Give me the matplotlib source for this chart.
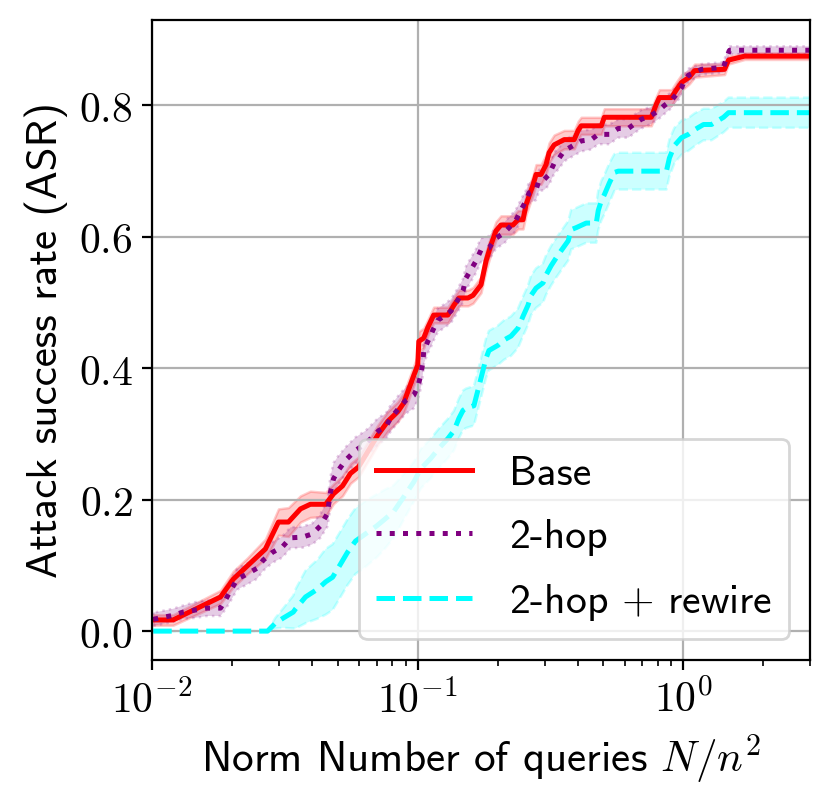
import matplotlib
matplotlib.use("Agg")
import matplotlib.pyplot as plt
from matplotlib.ticker import FuncFormatter, FixedLocator
import numpy as np

matplotlib.rcParams['mathtext.fontset'] = 'cm'
matplotlib.rcParams['mathtext.default'] = 'rm'
matplotlib.rcParams['axes.unicode_minus'] = False

# --- data (x = N/n^2, y = ASR, err = band half-width) ---
base_x = [0.0101, 0.0120, 0.0181, 0.0202, 0.0228, 0.0267, 0.0299, 0.0326, 0.0362, 0.0394,
          0.0450, 0.0482, 0.0521, 0.0558, 0.0599, 0.0706, 0.0770, 0.0841, 0.0885, 0.0966,
          0.1000, 0.1009, 0.1053, 0.1091, 0.1148, 0.1298, 0.1368, 0.1429, 0.1545, 0.1614,
          0.1730, 0.1806, 0.1886, 0.1969, 0.2056, 0.2282, 0.2384, 0.2489, 0.2556, 0.2716,
          0.2787, 0.2911, 0.3040, 0.3120, 0.3260, 0.3557, 0.3880, 0.4015, 0.4121, 0.4907,
          0.5035, 0.7568, 0.7907, 0.8117, 0.9012, 0.9412, 0.9831, 1.053, 1.101, 1.428,
          1.478, 1.699, 3.0]
base_y = [0.017, 0.017, 0.052, 0.079, 0.099, 0.125, 0.166, 0.166, 0.186, 0.193,
          0.193, 0.209, 0.221, 0.240, 0.250, 0.298, 0.319, 0.334, 0.347, 0.389,
          0.405, 0.441, 0.446, 0.462, 0.481, 0.481, 0.496, 0.507, 0.507, 0.511,
          0.527, 0.563, 0.588, 0.609, 0.618, 0.618, 0.626, 0.626, 0.649, 0.679,
          0.695, 0.695, 0.710, 0.728, 0.740, 0.748, 0.748, 0.762, 0.769, 0.769,
          0.782, 0.782, 0.802, 0.812, 0.812, 0.824, 0.835, 0.843, 0.853, 0.855,
          0.869, 0.875, 0.875]
base_err = [0.008, 0.008, 0.010, 0.012, 0.012, 0.015, 0.020, 0.022, 0.020, 0.020,
            0.018, 0.015, 0.015, 0.015, 0.015, 0.015, 0.015, 0.015, 0.015, 0.015,
            0.015, 0.015, 0.015, 0.012, 0.012, 0.012, 0.012, 0.012, 0.012, 0.012,
            0.012, 0.014, 0.014, 0.014, 0.014, 0.014, 0.014, 0.014, 0.015, 0.015,
            0.015, 0.015, 0.015, 0.015, 0.015, 0.014, 0.014, 0.014, 0.013, 0.013,
            0.013, 0.013, 0.012, 0.012, 0.012, 0.012, 0.012, 0.010, 0.010, 0.008,
            0.006, 0.005, 0.005]

hop_x = [0.0101, 0.0120, 0.0131, 0.0145, 0.0161, 0.0181, 0.0188, 0.0197, 0.0209, 0.0228,
         0.0249, 0.0262, 0.0284, 0.0309, 0.0332, 0.0368, 0.0401, 0.0430, 0.0457, 0.0469,
         0.0482, 0.0503, 0.0535, 0.0583, 0.0636, 0.0712, 0.0757, 0.0791, 0.0848, 0.0901,
         0.0966, 0.1000, 0.1026, 0.1044, 0.1053, 0.1091, 0.1120, 0.1140, 0.1189, 0.1253,
         0.1333, 0.1416, 0.1480, 0.1518, 0.1585, 0.1655, 0.1730, 0.1853, 0.1969, 0.2111,
         0.2244, 0.2344, 0.2447, 0.2556, 0.2624, 0.2787, 0.2862, 0.2986, 0.3120, 0.3260,
         0.3405, 0.3557, 0.3845, 0.4121, 0.4497, 0.4778, 0.5260, 0.5684, 0.6202, 0.6648,
         0.6945, 0.7568, 0.8050, 0.8474, 0.9012, 0.9412, 0.9831, 1.009, 1.044, 1.170,
         1.415, 1.453, 1.491, 3.0]
hop_y = [0.018, 0.024, 0.029, 0.032, 0.035, 0.035, 0.046, 0.061, 0.079, 0.087,
         0.096, 0.108, 0.120, 0.128, 0.142, 0.143, 0.148, 0.160, 0.179, 0.211,
         0.232, 0.245, 0.260, 0.275, 0.285, 0.305, 0.311, 0.324, 0.339, 0.351,
         0.359, 0.372, 0.389, 0.408, 0.426, 0.441, 0.450, 0.458, 0.473, 0.479,
         0.487, 0.504, 0.518, 0.537, 0.550, 0.563, 0.580, 0.583, 0.598, 0.606,
         0.617, 0.626, 0.641, 0.655, 0.667, 0.672, 0.686, 0.687, 0.695, 0.712,
         0.720, 0.731, 0.739, 0.746, 0.748, 0.756, 0.756, 0.765, 0.765, 0.774,
         0.779, 0.785, 0.792, 0.800, 0.808, 0.817, 0.827, 0.838, 0.846, 0.855,
         0.858, 0.873, 0.884, 0.884]
hop_err = [0.010, 0.010, 0.010, 0.012, 0.012, 0.012, 0.014, 0.016, 0.016, 0.016,
           0.016, 0.016, 0.016, 0.016, 0.016, 0.016, 0.016, 0.018, 0.020, 0.024,
           0.024, 0.022, 0.020, 0.020, 0.020, 0.020, 0.020, 0.020, 0.020, 0.020,
           0.020, 0.020, 0.020, 0.020, 0.020, 0.018, 0.018, 0.018, 0.018, 0.018,
           0.018, 0.018, 0.018, 0.018, 0.018, 0.018, 0.018, 0.018, 0.016, 0.016,
           0.016, 0.016, 0.016, 0.016, 0.016, 0.016, 0.016, 0.016, 0.016, 0.016,
           0.016, 0.016, 0.016, 0.016, 0.015, 0.015, 0.015, 0.014, 0.014, 0.014,
           0.014, 0.013, 0.013, 0.013, 0.012, 0.012, 0.012, 0.010, 0.010, 0.008,
           0.008, 0.007, 0.006, 0.006]

rew_x = [0.0101, 0.0272, 0.0291, 0.0312, 0.0340, 0.0347, 0.0378, 0.0420, 0.0450, 0.0478,
         0.0512, 0.0544, 0.0583, 0.0636, 0.0700, 0.0750, 0.0812, 0.0878, 0.0966, 0.1026,
         0.1120, 0.1200, 0.1298, 0.1368, 0.1429, 0.1480, 0.1518, 0.1627, 0.1730, 0.1806,
         0.1853, 0.2004, 0.2111, 0.2244, 0.2384, 0.2489, 0.2600, 0.2669, 0.2787, 0.2962,
         0.3040, 0.3175, 0.3318, 0.3465, 0.3683, 0.3779, 0.3946, 0.4305, 0.4698, 0.4778,
         0.4907, 0.5035, 0.5260, 0.5494, 0.5684, 0.8628, 0.8853, 0.9248, 0.9831, 1.044,
         1.101, 1.190, 1.275, 1.415, 1.478, 3.0]
rew_y = [0.000, 0.000, 0.012, 0.020, 0.029, 0.034, 0.052, 0.064, 0.075, 0.082,
         0.102, 0.120, 0.137, 0.148, 0.160, 0.170, 0.182, 0.202, 0.227, 0.247,
         0.263, 0.278, 0.293, 0.305, 0.324, 0.336, 0.339, 0.343, 0.385, 0.415,
         0.427, 0.435, 0.443, 0.449, 0.461, 0.479, 0.496, 0.511, 0.522, 0.530,
         0.542, 0.556, 0.568, 0.579, 0.594, 0.611, 0.614, 0.621, 0.621, 0.640,
         0.655, 0.664, 0.682, 0.698, 0.700, 0.700, 0.720, 0.739, 0.751, 0.756,
         0.763, 0.771, 0.771, 0.782, 0.789, 0.789]
rew_err = [0.000, 0.000, 0.008, 0.015, 0.025, 0.030, 0.040, 0.045, 0.050, 0.050,
           0.050, 0.050, 0.050, 0.050, 0.048, 0.045, 0.040, 0.035, 0.030, 0.030,
           0.030, 0.030, 0.030, 0.030, 0.030, 0.030, 0.030, 0.030, 0.030, 0.030,
           0.030, 0.030, 0.030, 0.030, 0.030, 0.030, 0.030, 0.030, 0.030, 0.030,
           0.030, 0.030, 0.030, 0.030, 0.030, 0.030, 0.030, 0.030, 0.030, 0.030,
           0.030, 0.030, 0.030, 0.028, 0.028, 0.028, 0.028, 0.027, 0.026, 0.025,
           0.025, 0.024, 0.024, 0.023, 0.023, 0.023]

series = [
    ("Base", base_x, base_y, base_err, "red", "-"),
    ("2-hop", hop_x, hop_y, hop_err, "purple", ":"),
    ("2-hop $+$ rewire", rew_x, rew_y, rew_err, "cyan", "--"),
]

fig = plt.figure(figsize=(8.31 / 2, 8.01 / 2), dpi=200)
ax = fig.add_axes([0.183, 0.176, 0.792, 0.799])

for label, x, y, err, color, ls in series:
    x = np.array(x)
    y = np.array(y)
    err = np.array(err)
    ax.fill_between(x, y - err, y + err, color=color, alpha=0.2,
                    linestyle=ls, linewidth=0.9)
    ax.plot(x, y, color=color, linestyle=ls, linewidth=1.8, label=label)

ax.set_xscale("log")
ax.set_xlim(0.01, 3.0)
ax.set_ylim(-0.044, 0.93)
ax.yaxis.set_major_locator(FixedLocator([0.0, 0.2, 0.4, 0.6, 0.8]))
ax.yaxis.set_major_formatter(FuncFormatter(lambda v, _: f"${v:.1f}$"))
ax.xaxis.set_major_formatter(FuncFormatter(lambda v, _: f"$10^{{{int(round(np.log10(v)))}}}$"))
ax.tick_params(axis="both", which="major", labelsize=15)
ax.grid(True, which="major")

ax.set_xlabel(r"Norm Number of queries $\mathit{N}/\mathit{n}^2$", fontfamily="cmss10", fontsize=15.5)
ax.set_ylabel("Attack success rate (ASR)", fontfamily="cmss10", fontsize=15.5)

ax.legend(loc="lower right", prop={"family": "cmss10", "size": 15},
          handlelength=2.3, handletextpad=0.9, labelspacing=0.62)

fig.savefig("out.png", dpi=200)
